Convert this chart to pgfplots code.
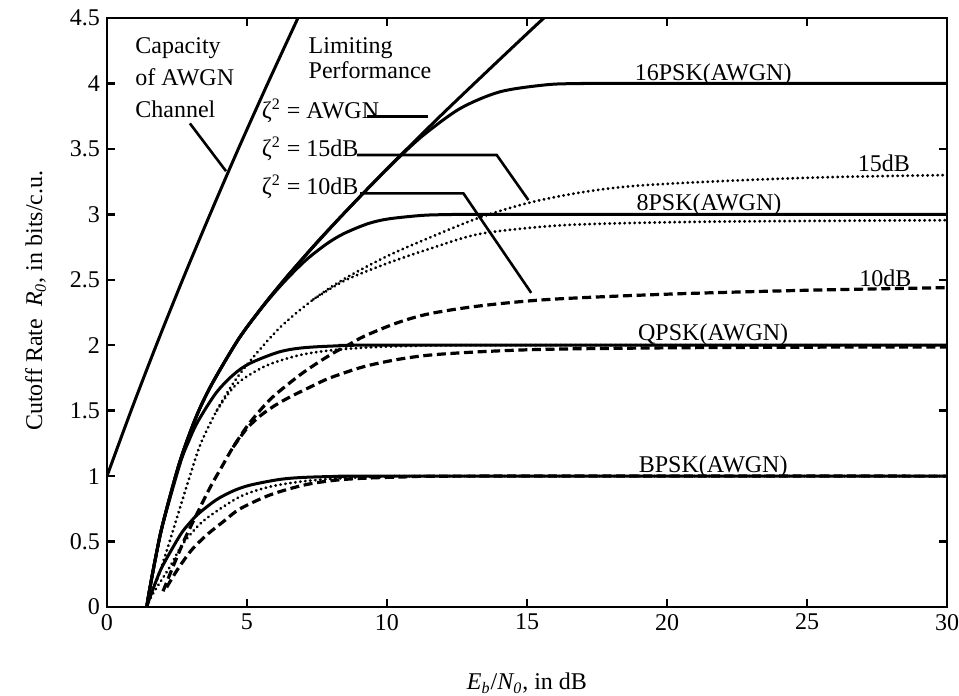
\documentclass[border=0pt]{standalone}
\usepackage{fontspec}
\setmainfont{Liberation Serif}
\usepackage{pgfplots}
\pgfplotsset{compat=1.18}
\usetikzlibrary{calc}
\pgfplotsset{
 solidc/.style={black, line width=1.5pt, mark=none, smooth},
 dotc/.style={black, line width=1.5pt, line cap=round, dash pattern=on 0.1pt off 2.4pt, mark=none, smooth},
 dashc/.style={black, line width=1.6pt, dash pattern=on 4.5pt off 2.3pt, mark=none, smooth},
}
\begin{document}
\begin{tikzpicture}[font=\fontsize{12}{15}\selectfont]
\begin{axis}[
 scale only axis, width=420pt, height=294.5pt,
 xmin=0, xmax=30, ymin=0, ymax=4.5,
 xtick={0,5,...,30}, ytick={0,0.5,...,4.5},
 tick align=inside, major tick length=4pt,
 axis line style={line width=1.2pt},
 every tick/.style={line width=1.2pt, black},
 /pgf/number format/assume math mode=true,
 tick label style={font=\fontsize{12}{14}\selectfont},
 clip mode=individual,
 xlabel={\textit{E\textsubscript{b}}/\textit{N\textsubscript{0}}, in dB},
 ylabel={Cutoff Rate \ \textit{R\textsubscript{0}}, in bits/c.u.},
 xlabel style={at={(axis description cs:0.5,0)}, anchor=center, yshift=-38pt},
 ylabel style={at={(axis description cs:-0.085,0.52)}, anchor=center},
]
% capacity of AWGN channel
\addplot[solidc] coordinates {(0,1) (0.86,1.5) (1.76,2) (2.70,2.5) (3.68,3) (4.69,3.5) (5.74,4) (6.82,4.5)};
% limiting performance AWGN
\addplot[solidc] coordinates {(1.42,0) (1.47,0.071) (1.70,0.338) (1.99,0.633) (2.59,1.102) (3.17,1.445) (3.73,1.697) (4.68,2.041) (5.47,2.272) (6.12,2.446) (7.36,2.754) (8.29,2.968) (9.63,3.267) (10.61,3.478) (12.01,3.773) (13.83,4.144) (15.29,4.438) (15.75,4.528)};
% 16PSK AWGN
\addplot[solidc] coordinates {(1.42,0) (1.47,0.071) (1.70,0.338) (1.99,0.633) (2.59,1.102) (3.17,1.445) (3.73,1.697) (4.68,2.041) (5.47,2.272) (6.12,2.445) (6.67,2.585) (8.29,2.968) (9.63,3.266) (10.61,3.472) (11.40,3.622) (12.64,3.812) (14.05,3.937) (15.75,3.991) (16.99,3.999) (18,4) (30,4)};
% 8PSK AWGN
\addplot[solidc] coordinates {(1.42,0) (1.47,0.071) (1.70,0.338) (1.99,0.633) (2.59,1.102) (3.17,1.445) (3.73,1.697) (4.68,2.041) (5.47,2.270) (6.13,2.438) (6.70,2.567) (7.20,2.668) (7.87,2.778) (8.46,2.853) (9.31,2.928) (10.05,2.965) (11.26,2.992) (12.22,2.998) (14,3) (30,3)};
% QPSK AWGN
\addplot[solidc] coordinates {(1.42,0) (1.53,0.141) (1.757,0.400) (1.99,0.632) (2.61,1.096) (2.93,1.273) (3.25,1.419) (3.89,1.634) (4.50,1.772) (5.09,1.860) (6.14,1.948) (7.03,1.981) (8.46,1.997) (10,2) (30,2)};
% BPSK AWGN
\addplot[solidc] coordinates {(1.42,0) (1.53,0.0704) (1.757,0.2002) (1.99,0.3161) (2.61,0.548) (2.93,0.6366) (3.25,0.7095) (3.89,0.8169) (4.50,0.8862) (5.09,0.930) (6.14,0.9738) (7.03,0.9903) (8.46,0.9987) (10,1) (30,1)};
% 15 dB (dotted)
\addplot[dotc] coordinates {(1.42,0) (1.6,0.12) (1.89,0.27) (2.25,0.51) (2.61,0.76) (2.96,1.0) (3.35,1.25) (3.92,1.50) (4.51,1.71) (5.11,1.88) (6.2,2.14) (7.37,2.35) (8.5,2.51) (10,2.68) (11.5,2.82) (13.3,2.975) (15.1,3.09) (17,3.17) (19,3.22) (22.6,3.26) (26,3.285) (30,3.30)};
\addplot[dotc] coordinates {(7.37,2.35) (8.5,2.495) (10,2.625) (11.5,2.735) (13.3,2.85) (15.8,2.91) (18,2.93) (22,2.945) (30,2.955)};
\addplot[dotc] coordinates {(3.92,1.50) (4.3,1.62) (4.75,1.725) (5.70,1.845) (6.89,1.925) (8.08,1.963) (9.5,1.985) (11,1.995) (13,2.0) (30,2.0)};
\addplot[dotc] coordinates {(1.42,0) (1.65,0.105) (2.25,0.308) (2.61,0.45) (3.0,0.56) (3.56,0.678) (4.75,0.843) (5.82,0.919) (7,0.96) (8.3,0.983) (10,0.996) (12,1) (30,1)};
% 10 dB (dashed)
\addplot[dashc] coordinates {(2.0,0.12) (2.4,0.33) (2.8,0.53) (3.3,0.75) (3.7,0.92) (4.15,1.09) (4.5,1.22) (5.0,1.38) (5.5,1.51) (6.0,1.62) (7.0,1.79) (8.0,1.93) (8.6,2.0) (9.2,2.07) (10.35,2.17) (11.5,2.24) (13.3,2.30) (15.8,2.35) (20,2.39) (25,2.42) (30,2.44)};
\addplot[dashc] coordinates {(4.5,1.22) (5.0,1.365) (5.5,1.465) (6.0,1.54) (6.54,1.605) (7.3,1.685) (7.96,1.75) (9.15,1.835) (10.35,1.89) (11.54,1.925) (13.32,1.95) (15.7,1.969) (20,1.98) (25,1.985) (30,1.987)};
\addplot[dashc] coordinates {(2.13,0.15) (2.5,0.28) (3.0,0.43) (3.56,0.55) (4.2,0.66) (4.75,0.75) (5.82,0.856) (7,0.93) (8,0.965) (9,0.982) (10.5,0.993) (13,1.0) (30,1.0)};
% annotations
\node[anchor=north west, inner sep=0, align=left, font=\fontsize{12}{16}\selectfont] at (axis cs:1.0,4.35) {Capacity\\of AWGN\\Channel};
\node[anchor=north west, inner sep=0, align=left, font=\fontsize{12}{12.5}\selectfont] at (axis cs:7.19,4.35) {Limiting\\Performance};
\node[anchor=base west, inner sep=0] at (axis cs:5.52,3.733) {ζ\textsuperscript{2} = AWGN};
\node[anchor=base west, inner sep=0] at (axis cs:5.52,3.445) {ζ\textsuperscript{2} = 15dB};
\node[anchor=base west, inner sep=0] at (axis cs:5.52,3.153) {ζ\textsuperscript{2} = 10dB};
\node[anchor=base, inner sep=0] at (axis cs:21.65,4.026) {16PSK(AWGN)};
\node[anchor=base, inner sep=0] at (axis cs:21.5,3.026) {8PSK(AWGN)};
\node[anchor=base, inner sep=0] at (axis cs:21.65,2.035) {QPSK(AWGN)};
\node[anchor=base, inner sep=0] at (axis cs:21.65,1.026) {BPSK(AWGN)};
\node[anchor=base, inner sep=0] at (axis cs:27.75,3.33) {15dB};
\node[anchor=base, inner sep=0] at (axis cs:27.8,2.447) {10dB};
\draw[line width=1.3pt] (axis cs:2.96,3.695) -- (axis cs:4.25,3.33);
\draw[line width=1.3pt] (axis cs:9.27,3.746) -- (axis cs:11.48,3.746);
\draw[line width=1.3pt] (axis cs:8.92,3.453) -- (axis cs:13.92,3.453) -- (axis cs:15.05,3.109);
\draw[line width=1.3pt] (axis cs:9.04,3.16) -- (axis cs:12.73,3.16) -- (axis cs:15.15,2.40);
\end{axis}
\pgfresetboundingbox
\path[use as bounding box] ($(current axis.south west)+(-53.5pt,-44.5pt)$) rectangle ($(current axis.north east)+(6pt,9pt)$);
\end{tikzpicture}
\end{document}
